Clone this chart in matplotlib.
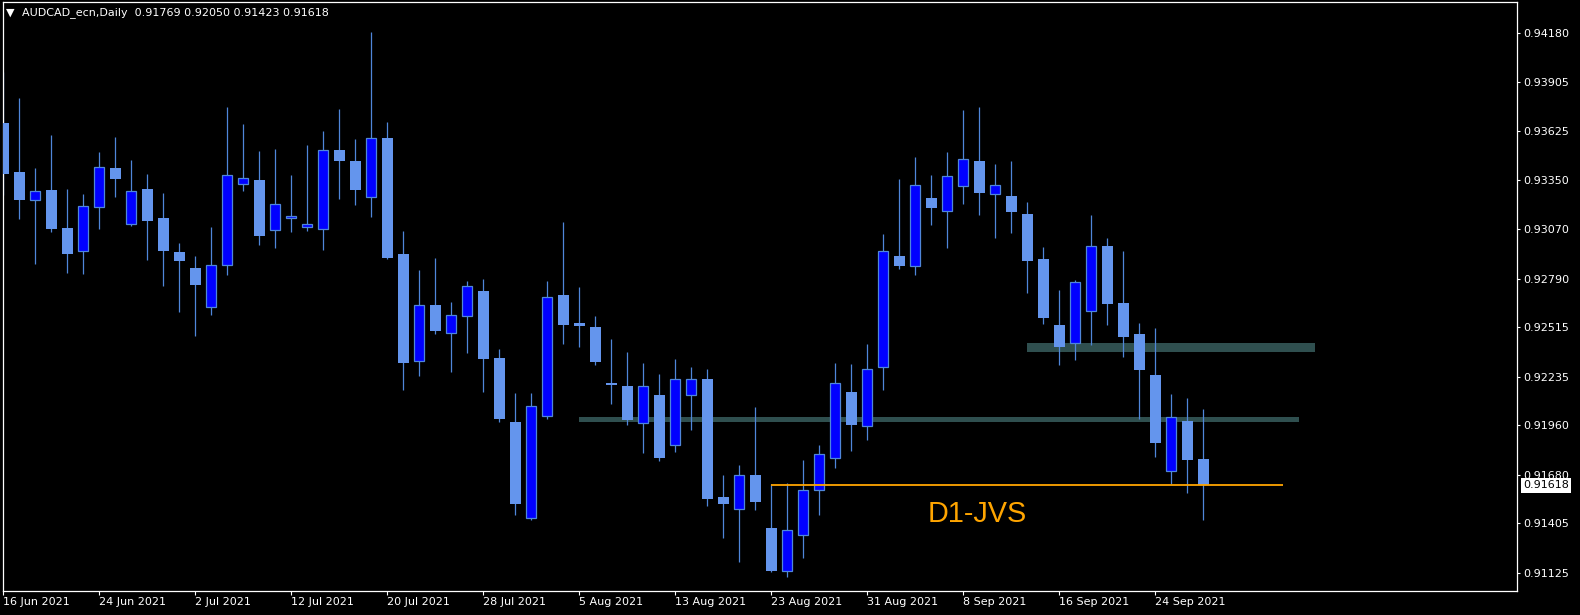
import matplotlib
matplotlib.use('Agg')
import matplotlib.pyplot as plt
from matplotlib.patches import Rectangle
from matplotlib.transforms import blended_transform_factory

# daily AUDCAD candles, 16 Jun 2021 .. 29 Sep 2021
opens = [0.93673, 0.93395, 0.93233, 0.93291, 0.93076, 0.92949, 0.93198, 0.93417, 0.93102, 0.93298,
         0.93133, 0.92940, 0.92851, 0.92628, 0.92866, 0.93328, 0.93348, 0.93068, 0.93131, 0.93085,
         0.93074, 0.93519, 0.93456, 0.93250, 0.93586, 0.92929, 0.92322, 0.92640, 0.92480, 0.92580,
         0.92721, 0.92339, 0.91977, 0.91431, 0.92010, 0.92697, 0.92537, 0.92515, 0.92198, 0.92181,
         0.91971, 0.92131, 0.91845, 0.92129, 0.92224, 0.91550, 0.91487, 0.91678, 0.91376, 0.91136,
         0.91340, 0.91595, 0.91771, 0.92148, 0.91953, 0.92287, 0.92918, 0.92864, 0.93248, 0.93176,
         0.93317, 0.93456, 0.93267, 0.93259, 0.93157, 0.92901, 0.92528, 0.92428, 0.92604, 0.92975,
         0.92651, 0.92476, 0.92244, 0.91702, 0.91984, 0.91769]
highs = [0.93961, 0.93814, 0.93417, 0.93603, 0.93298, 0.93269, 0.93508, 0.93592, 0.93462, 0.93382,
         0.93276, 0.92992, 0.92918, 0.93083, 0.93762, 0.93666, 0.93512, 0.93525, 0.93378, 0.93547,
         0.93627, 0.93751, 0.93582, 0.94187, 0.93677, 0.93059, 0.92838, 0.92907, 0.92658, 0.92775,
         0.92788, 0.92391, 0.92142, 0.92142, 0.92777, 0.93111, 0.92743, 0.92578, 0.92448, 0.92374,
         0.92311, 0.92250, 0.92335, 0.92289, 0.92276, 0.91678, 0.91736, 0.92062, 0.91626, 0.91632,
         0.91762, 0.91847, 0.92311, 0.92307, 0.92419, 0.93042, 0.93354, 0.93480, 0.93378, 0.93508,
         0.93746, 0.93762, 0.93439, 0.93456, 0.93224, 0.92970, 0.92725, 0.92781, 0.93150, 0.93020,
         0.92946, 0.92539, 0.92510, 0.92135, 0.92114, 0.92050]
lows = [0.93263, 0.93128, 0.92873, 0.93057, 0.92823, 0.92816, 0.93072, 0.93252, 0.93089, 0.92896,
        0.92749, 0.92602, 0.92465, 0.92586, 0.92808, 0.93289, 0.92981, 0.92964, 0.93057, 0.93061,
        0.92955, 0.93243, 0.93209, 0.93141, 0.92899, 0.92161, 0.92239, 0.92478, 0.92263, 0.92370,
        0.92150, 0.91975, 0.91450, 0.91424, 0.91997, 0.92422, 0.92400, 0.92298, 0.92081, 0.91958,
        0.91804, 0.91754, 0.91810, 0.91934, 0.91504, 0.91322, 0.91186, 0.91481, 0.91127, 0.91101,
        0.91210, 0.91448, 0.91719, 0.91814, 0.91873, 0.92161, 0.92847, 0.92812, 0.93094, 0.92964,
        0.93215, 0.93152, 0.93022, 0.93050, 0.92710, 0.92534, 0.92298, 0.92328, 0.92415, 0.92530,
        0.92348, 0.91997, 0.91782, 0.91626, 0.91578, 0.91423]
closes = [0.93382, 0.93233, 0.93285, 0.93072, 0.92927, 0.93200, 0.93421, 0.93352, 0.93285, 0.93115,
          0.92946, 0.92892, 0.92753, 0.92866, 0.93380, 0.93358, 0.93031, 0.93211, 0.93144, 0.93098,
          0.93517, 0.93458, 0.93293, 0.93584, 0.92909, 0.92313, 0.92638, 0.92495, 0.92586, 0.92747,
          0.92335, 0.91994, 0.91513, 0.92066, 0.92684, 0.92530, 0.92523, 0.92320, 0.92185, 0.91990,
          0.92179, 0.91775, 0.92224, 0.92224, 0.91543, 0.91515, 0.91676, 0.91526, 0.91136, 0.91363,
          0.91595, 0.91795, 0.92196, 0.91962, 0.92276, 0.92944, 0.92864, 0.93319, 0.93191, 0.93369,
          0.93467, 0.93278, 0.93319, 0.93170, 0.92892, 0.92569, 0.92402, 0.92771, 0.92975, 0.92649,
          0.92461, 0.92274, 0.91856, 0.92005, 0.91762, 0.91618]

date_ticks = [0, 6, 12, 18, 24, 30, 36, 42, 48, 54, 60, 66, 72]
date_labels = ['16 Jun 2021', '24 Jun 2021', '2 Jul 2021', '12 Jul 2021', '20 Jul 2021',
               '28 Jul 2021', '5 Aug 2021', '13 Aug 2021', '23 Aug 2021', '31 Aug 2021',
               '8 Sep 2021', '16 Sep 2021', '24 Sep 2021']
price_ticks = [0.94180, 0.93905, 0.93625, 0.93350, 0.93070, 0.92790,
               0.92515, 0.92235, 0.91960, 0.91680, 0.91405, 0.91125]

# zones: (start bar, end bar, low, high)
zone_starts = [64, 36]
zone_ends = [82, 81]
zone_lows = [0.92376, 0.91975]
zone_highs = [0.92424, 0.92006]

jvs_level = 0.91618
jvs_start, jvs_end = 48, 80
last_price = 0.91618

BULL = '#0000FF'
BEAR = '#6495ED'
WICK = '#4f86d9'
ZONE = '#2F4F4F'
ORANGE = '#FFA500'

fig = plt.figure(figsize=(15.8, 6.15), dpi=100, facecolor='black')
ax = fig.add_axes([2.7 / 1580, 1 - 591 / 615, 1514 / 1580, 589.5 / 615])
ax.set_facecolor('black')

for s, e, lo, hi in zip(zone_starts, zone_ends, zone_lows, zone_highs):
    ax.add_patch(Rectangle((s, lo), e - s, hi - lo, fc=ZONE, ec='none', zorder=1))

xs = list(range(len(opens)))
ax.vlines(xs, lows, highs, color=WICK, lw=0.9, zorder=2)
for i in xs:
    o, c = opens[i], closes[i]
    bot = min(o, c)
    h = max(abs(c - o), 0.00002)
    if c >= o:
        ax.bar(i, h, bottom=bot, width=0.62, color=BULL, edgecolor=WICK, lw=0.9, zorder=3)
    else:
        ax.bar(i, h, bottom=bot, width=0.67, color=BEAR, edgecolor='none', zorder=3)

ax.hlines(jvs_level, jvs_start, jvs_end, color=ORANGE, lw=1.3, zorder=4)
ax.text(57.8, 0.91409, 'D1-JVS', color=ORANGE, fontsize=20.8,
        family='Liberation Sans', va='baseline', ha='left', zorder=4)

ax.set_xlim(-0.04, 94.59)
ax.set_ylim(0.910202, 0.943602)

for sp in ax.spines.values():
    sp.set_color('white')
    sp.set_linewidth(0.9)

ax.set_xticks(date_ticks)
ax.set_xticklabels(date_labels)
for lbl in ax.get_xticklabels():
    lbl.set_ha('left')
ax.tick_params(axis='x', colors='white', direction='out', length=3, width=0.8,
               labelsize=8, pad=1.5)

ax.yaxis.tick_right()
ax.set_yticks(price_ticks)
ax.set_yticklabels(['%.5f' % p for p in price_ticks])
ax.tick_params(axis='y', colors='white', direction='out', length=2.5, width=0.8,
               labelsize=8, pad=2)

trans = blended_transform_factory(ax.transAxes, ax.transData)
ax.text(1.0043, last_price, '%.5f' % last_price, transform=trans, color='black',
        fontsize=8, va='center', ha='left', zorder=10, clip_on=False,
        bbox=dict(boxstyle='square,pad=0.2', fc='white', ec='none'))

fig.text(6 / 1580, 1 - 12.5 / 615, '\u25bc', color='white', fontsize=8, va='center', ha='left')
fig.text(21.7 / 1580, 1 - 12.5 / 615,
         'AUDCAD_ecn,Daily  %.5f %.5f %.5f %.5f' % (opens[-1], highs[-1], lows[-1], closes[-1]),
         color='white', fontsize=8, va='center', ha='left')

fig.savefig('out.png', dpi=100, facecolor='black')
